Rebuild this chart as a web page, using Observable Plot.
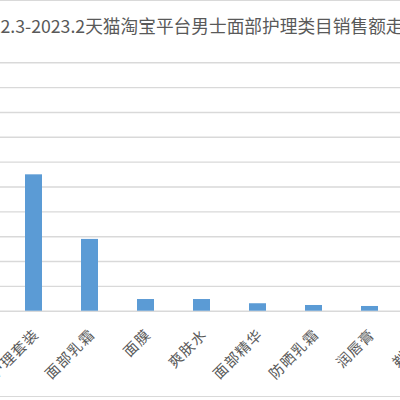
<!DOCTYPE html>
<html>
<head>
<meta charset="utf-8">
<script src="https://cdn.jsdelivr.net/npm/d3@7"></script>
<script src="https://cdn.jsdelivr.net/npm/@observablehq/plot@0.6"></script>
<style>
html, body { margin: 0; padding: 0; background: #fff; }
#frame { position: relative; width: 400px; height: 400px; overflow: hidden; background: #fff; }
#topline { position: absolute; left: 0; top: 0; width: 400px; height: 0; border-top: 1.5px solid #d9d9d9; }
#bottomline { position: absolute; left: 0; top: 396px; width: 400px; height: 0; border-top: 1.5px solid #d9d9d9; }
#title { position: absolute; top: 15px; left: -29px; white-space: nowrap; font-family: "Noto Sans CJK SC", sans-serif; font-size: 17.7px; line-height: 20px; color: #595959; }
#chart { position: absolute; left: -60px; top: 40px; width: 520px; height: 356px; }
#chart svg { max-width: none !important; width: 520px; height: 356px; }
#chart svg g[aria-label="x-axis tick label"] text { letter-spacing: 1.2px; }
</style>
</head>
<body>
<div id="frame">
  <div id="topline"></div>
  <div id="title">2022.3-2023.2天猫淘宝平台男士面部护理类目销售额走势</div>
  <div id="chart"></div>
  <div id="bottomline"></div>
</div>
<script>
const categories = ["洁面", "面部护理套装", "面部乳霜", "面膜", "爽肤水", "面部精华", "防晒乳霜", "润唇膏", "剃须膏"];
const sales = [8.6, 5.49, 2.89, 0.47, 0.47, 0.30, 0.23, 0.19, 0.15];
const gridTicks = [0, 1, 2, 3, 4, 5, 6, 7, 8, 9, 10];

const rows = categories.map((c, i) => ({category: c, value: sales[i]}));

const chart = Plot.plot({
  width: 520,
  height: 356,
  marginLeft: 8.5,
  marginRight: 5.5,
  marginTop: 22.3,
  marginBottom: 85.3,
  style: {background: "transparent", fontFamily: '"Noto Sans CJK SC", sans-serif', color: "#595959", overflow: "visible", maxWidth: "none"},
  x: {domain: categories, paddingInner: 0.689, paddingOuter: 0.3445, label: null},
  y: {domain: [0, 10], axis: null},
  marks: [
    Plot.ruleY(gridTicks, {stroke: "#d9d9d9", strokeWidth: 1.4}),
    Plot.barY(rows, {x: "category", y: "value", fill: "#5b9bd5"}),
    Plot.axisX({tickSize: 0, tickPadding: 21, dx: 2.5, tickRotate: -45, fill: "#595959", fontSize: 14.5, label: null})
  ]
});
document.getElementById("chart").appendChild(chart);
</script>
</body>
</html>
